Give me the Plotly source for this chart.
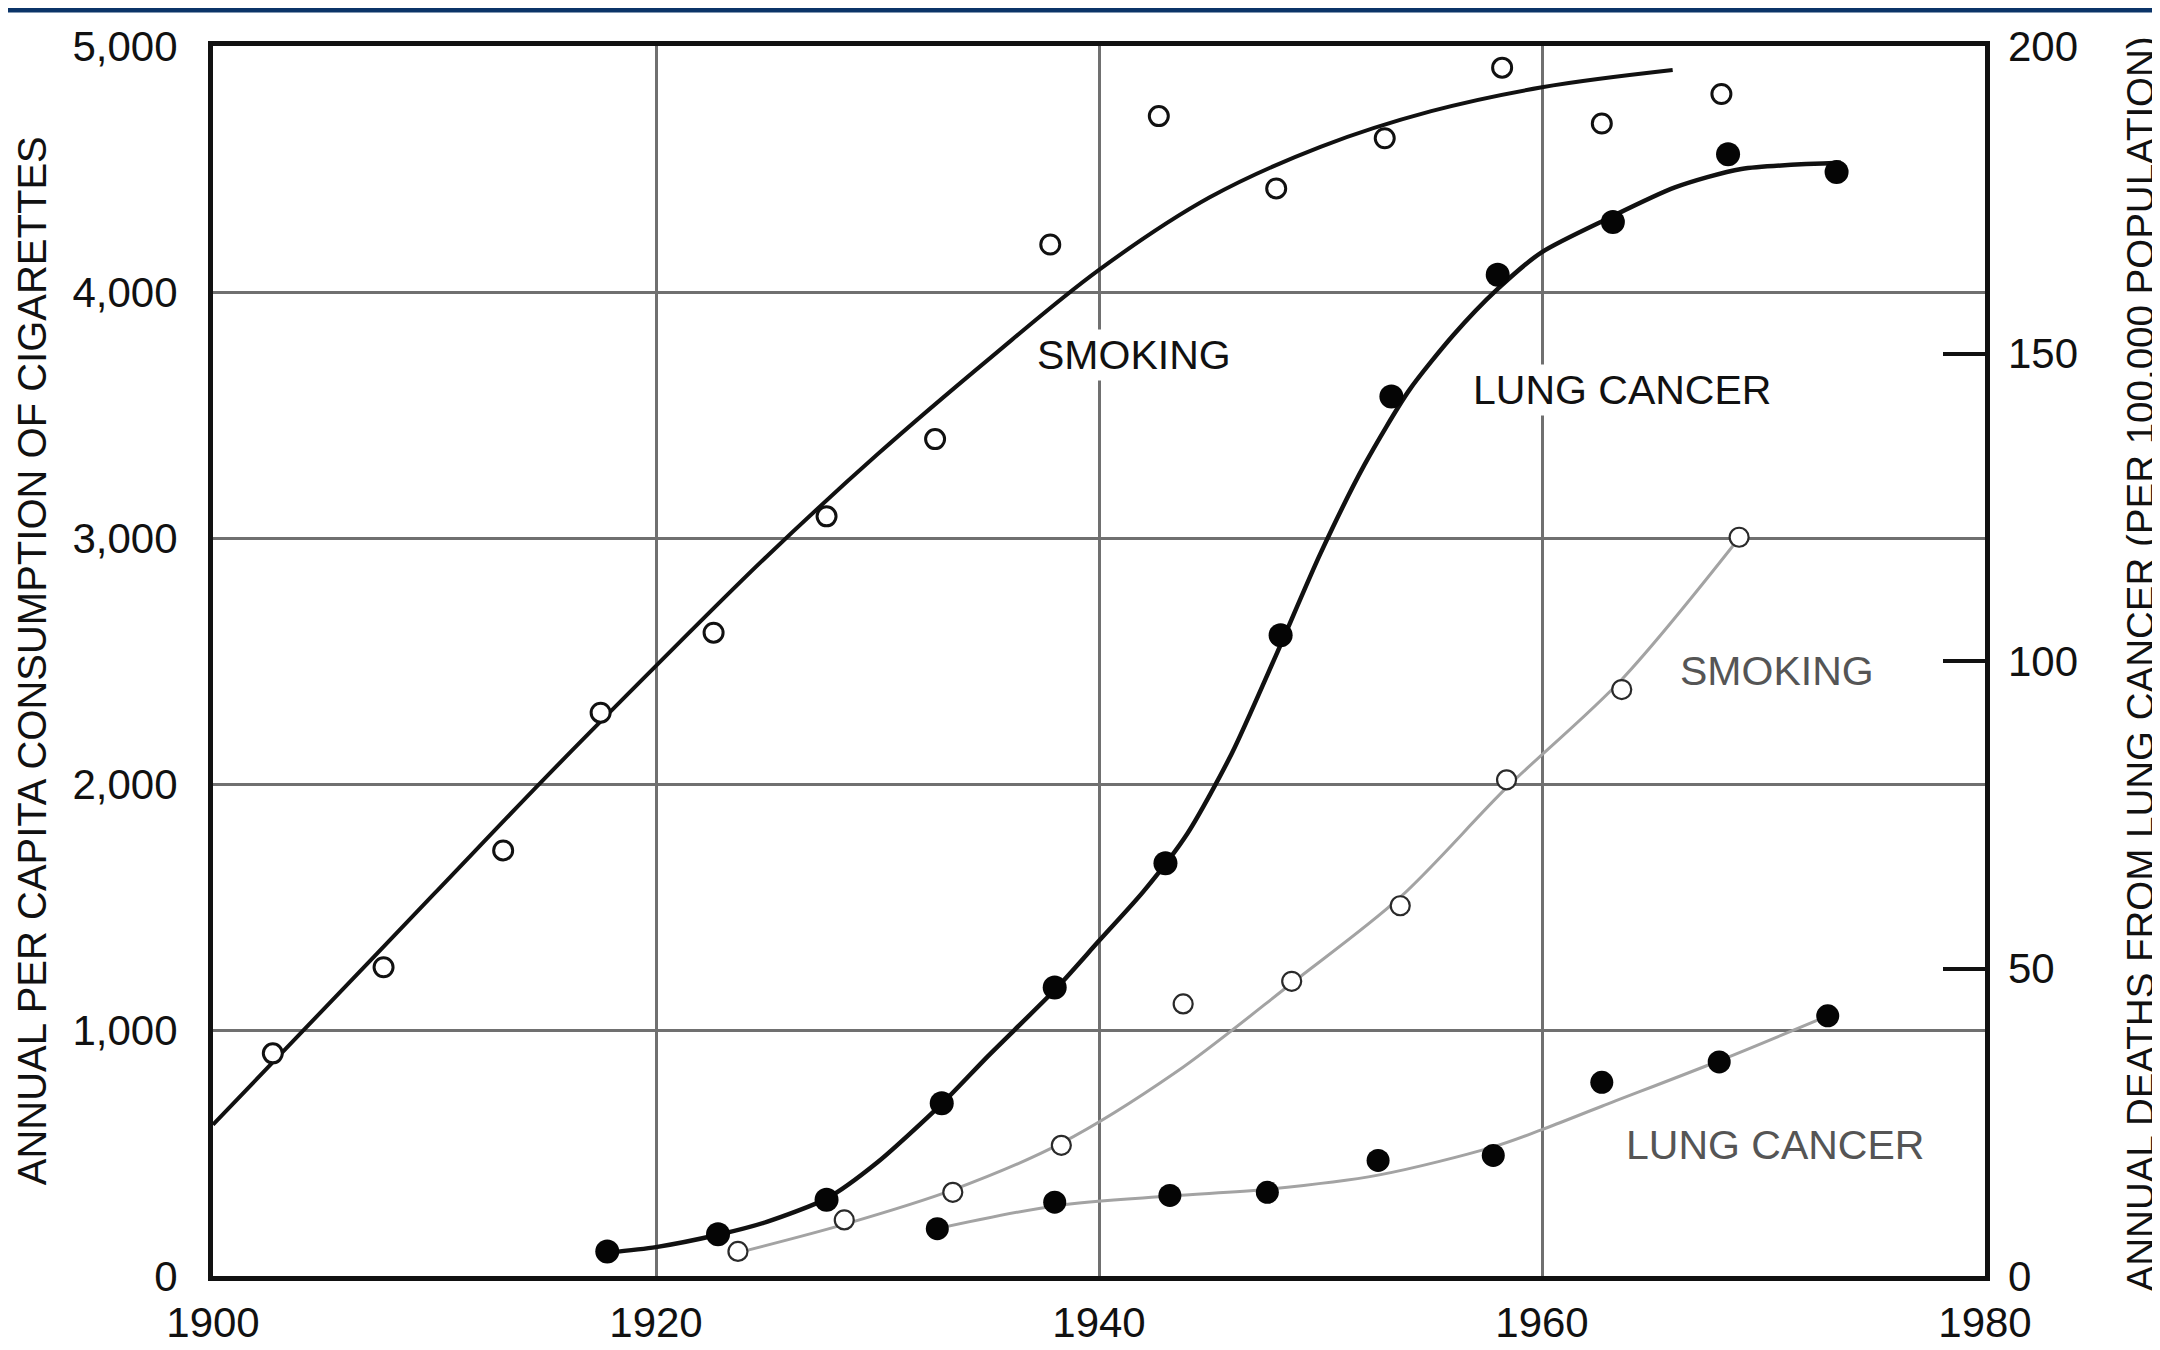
import plotly.graph_objects as go

# ---------------- data ----------------
# Black series: SMOKING (annual per-capita cigarettes, left axis)
smk1_years = [1902.7, 1907.7, 1913.1, 1917.5, 1922.6, 1927.7, 1932.6, 1937.8,
              1942.7, 1948.0, 1952.9, 1958.2, 1962.7, 1968.1]
smk1_vals = [905, 1255, 1730, 2290, 2615, 3088, 3402, 4193,
             4715, 4421, 4625, 4912, 4685, 4805]
smk1_fit_years = [1900, 1905, 1910, 1915, 1920, 1925, 1930, 1935, 1940, 1945,
                  1950, 1955, 1960, 1965.9]
smk1_fit_vals = [615, 1085, 1555, 2025, 2480, 2925, 3340, 3725, 4090, 4385,
                 4590, 4735, 4832, 4902]

# Black series: LUNG CANCER (deaths per 100,000, right axis)
lc1_years = [1917.8, 1922.8, 1927.7, 1932.9, 1938.0, 1943.0, 1948.2, 1953.2,
             1958.0, 1963.2, 1968.4, 1973.3]
lc1_vals = [4.0, 6.8, 12.4, 28.1, 46.9, 67.1, 104.2, 143.0,
            162.8, 171.4, 182.4, 179.5]
lc1_fit_years = [1917.8, 1920, 1922.8, 1925, 1927.7, 1930, 1932.9, 1935, 1938,
                 1940, 1942, 1944, 1946, 1948, 1950, 1952, 1954, 1956, 1958,
                 1960, 1963, 1966, 1969, 1973.5]
lc1_fit_vals = [3.8, 4.7, 6.7, 8.8, 12.6, 18.5, 28.0, 35.8, 46.5,
                54.5, 62.5, 72.0, 85.0, 101.0, 117.5, 132.0, 144.0, 153.0, 160.5,
                166.5, 172.0, 177.0, 180.0, 181.0]

# Grey series: SMOKING (left axis)
smk2_years = [1923.7, 1928.5, 1933.4, 1938.3, 1943.8, 1948.7, 1953.6, 1958.4,
              1963.6, 1968.9]
smk2_vals = [100, 228, 340, 531, 1106, 1198, 1505, 2017, 2384, 3003]
smk2_fit_years = [1923.7, 1928.5, 1933.4, 1938.3, 1943.5, 1948.7, 1953.6,
                  1958.4, 1963.6, 1968.9]
smk2_fit_vals = [95, 210, 350, 540, 830, 1190, 1540, 1985, 2425, 3000]

# Grey series: LUNG CANCER (right axis)
lc2_years = [1932.7, 1938.0, 1943.2, 1947.6, 1952.6, 1957.8, 1962.7, 1968.0,
             1972.9]
lc2_vals = [7.7, 12.0, 13.1, 13.6, 18.8, 19.6, 31.5, 34.8, 42.3]
lc2_fit_years = [1932.7, 1938.0, 1943.2, 1947.6, 1952.6, 1957.8, 1960,
                 1962.7, 1968.0, 1972.9]
lc2_fit_vals = [7.7, 11.4, 13.0, 14.1, 16.4, 21.0, 23.8, 27.6, 35.0, 42.3]

x_ticks = [1900, 1920, 1940, 1960, 1980]
left_ticks = [0, 1000, 2000, 3000, 4000, 5000]
right_ticks = [0, 50, 100, 150, 200]

# ---------------- figure ----------------
FONT = "Liberation Sans, Arial, sans-serif"
BLACK = "#111111"
GREY_LINE = "#a3a3a3"
GREY_TEXT = "#555555"

fig = go.Figure()

# grey curves (behind)
fig.add_trace(go.Scatter(x=smk2_fit_years, y=smk2_fit_vals, mode="lines",
                         line=dict(color=GREY_LINE, width=3, shape="spline", smoothing=0.9),
                         yaxis="y", showlegend=False, hoverinfo="skip"))
fig.add_trace(go.Scatter(x=lc2_fit_years, y=lc2_fit_vals, mode="lines",
                         line=dict(color=GREY_LINE, width=3, shape="spline", smoothing=0.9),
                         yaxis="y2", showlegend=False, hoverinfo="skip"))
# black curves
fig.add_trace(go.Scatter(x=smk1_fit_years, y=smk1_fit_vals, mode="lines",
                         line=dict(color=BLACK, width=4, shape="spline", smoothing=1.0),
                         yaxis="y", showlegend=False, hoverinfo="skip"))
fig.add_trace(go.Scatter(x=lc1_fit_years, y=lc1_fit_vals, mode="lines",
                         line=dict(color=BLACK, width=4.5, shape="spline", smoothing=0.7),
                         yaxis="y2", showlegend=False, hoverinfo="skip"))

# points
fig.add_trace(go.Scatter(x=smk2_years, y=smk2_vals, mode="markers",
                         marker=dict(symbol="circle", size=19, color="white",
                                     line=dict(color="#2a2a2a", width=2.2)),
                         yaxis="y", showlegend=False))
fig.add_trace(go.Scatter(x=smk1_years, y=smk1_vals, mode="markers",
                         marker=dict(symbol="circle", size=19, color="white",
                                     line=dict(color=BLACK, width=3)),
                         yaxis="y", showlegend=False))
fig.add_trace(go.Scatter(x=lc2_years, y=lc2_vals, mode="markers",
                         marker=dict(symbol="circle", size=23, color="#050505"),
                         yaxis="y2", showlegend=False))
fig.add_trace(go.Scatter(x=lc1_years, y=lc1_vals, mode="markers",
                         marker=dict(symbol="circle", size=24, color="#050505"),
                         yaxis="y2", showlegend=False))

# labels
def label(x, y, text, color, yref="y"):
    fig.add_annotation(x=x, y=y, xref="x", yref=yref, text=text, showarrow=False,
                       font=dict(family=FONT, size=41, color=color),
                       bgcolor="white", borderpad=2)

label(1941.6, 3745, "SMOKING", BLACK)
label(1963.6, 3600, "LUNG CANCER", BLACK)
label(1970.6, 2460, "SMOKING", GREY_TEXT)
label(1970.5, 532, "LUNG CANCER", GREY_TEXT)

# axis titles
fig.add_annotation(xref="paper", yref="paper", x=-0.102, y=0.5,
                   text="ANNUAL PER CAPITA CONSUMPTION OF CIGARETTES",
                   textangle=-90, showarrow=False, xanchor="center", yanchor="middle",
                   font=dict(family=FONT, size=40, color=BLACK))
fig.add_annotation(xref="paper", yref="paper", x=1.088, y=0.498,
                   text="ANNUAL DEATHS FROM LUNG CANCER (PER 100,000 POPULATION)",
                   textangle=-90, showarrow=False, xanchor="center", yanchor="middle",
                   font=dict(family=FONT, size=38.5, color=BLACK))

# navy band at the very top
fig.add_shape(type="rect", xref="paper", yref="paper",
              x0=-0.2, x1=1.2, y0=1 + 34 / 1252, y1=1 + 40 / 1252,
              fillcolor="#0b3468", line=dict(width=0), layer="above")

fig.update_layout(
    width=2160, height=1350,
    margin=dict(l=205, r=183, t=38, b=60),
    paper_bgcolor="white", plot_bgcolor="white",
    font=dict(family=FONT, color=BLACK),
    showlegend=False,
    xaxis=dict(range=[1900, 1980], tickvals=x_ticks, showgrid=True,
               gridcolor="#707070", gridwidth=3, zeroline=False,
               showline=True, linecolor=BLACK, linewidth=5, mirror=True,
               ticks="", tickfont=dict(size=42, color=BLACK),
               ticklabelstandoff=6),
    yaxis=dict(range=[0, 5000], tickvals=left_ticks, tickformat=",",
               showgrid=True, gridcolor="#707070", gridwidth=3, zeroline=False,
               showline=True, linecolor=BLACK, linewidth=5, mirror=True,
               ticks="", tickfont=dict(size=42, color=BLACK),
               ticklabelstandoff=22),
    yaxis2=dict(range=[0, 200], tickvals=right_ticks, overlaying="y", side="right",
                showgrid=False, zeroline=False, showline=False,
                ticks="inside", ticklen=42, tickwidth=4, tickcolor=BLACK,
                tickfont=dict(size=42, color=BLACK), ticklabelstandoff=22),
)

fig.write_html("out.html")
